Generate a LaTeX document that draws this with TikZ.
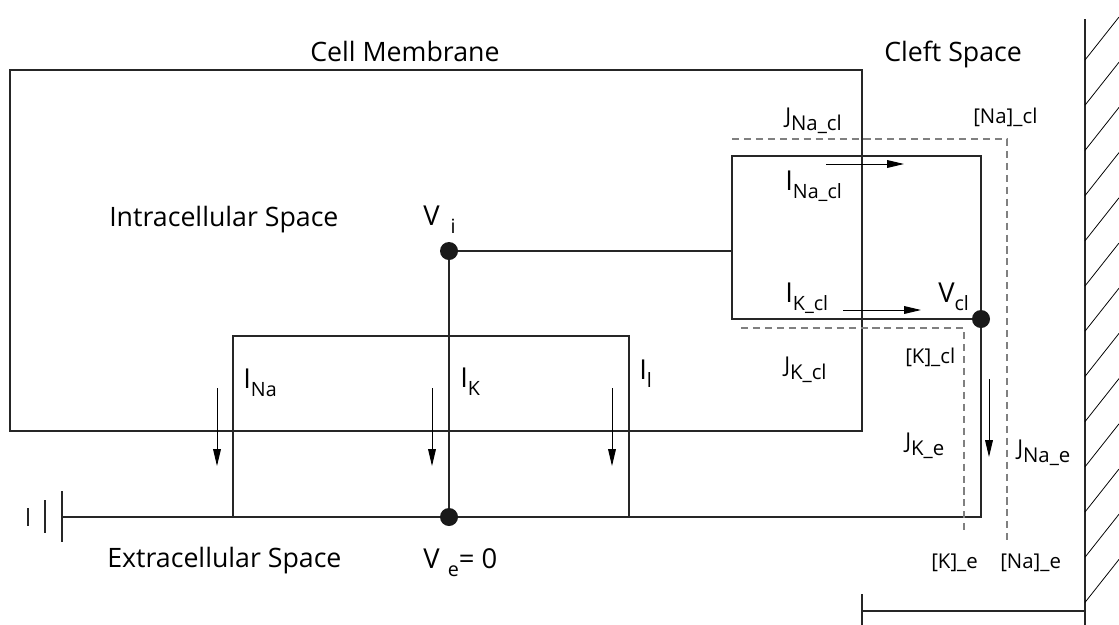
\documentclass[tikz,border=0pt]{standalone}
\usepackage{fontspec}
\setmainfont{Open Sans}
\usetikzlibrary{arrows.meta}
\newcommand{\sbs}[1]{\raisebox{-0.6ex}{\fontsize{14}{14}\selectfont #1}}
\newcommand{\jsb}[1]{\raisebox{-0.6ex}{\fontsize{14.5}{15}\selectfont #1}}
\tikzset{
  lbl/.style={inner sep=0pt,anchor=base west},
  space/.style={lbl,font=\fontsize{19}{22}\selectfont},
  cur/.style={lbl,font=\fontsize{19.5}{22}\selectfont},
  flux/.style={lbl,font=\fontsize{15.5}{18}\selectfont},
  conc/.style={lbl,font=\fontsize{14.5}{16}\selectfont},
  dot/.style={circle,fill=black!90,inner sep=0pt,minimum size=0.45cm},
  wire/.style={line width=0.85pt,black!85},
  dashline/.style={line width=0.8pt,black!50,dash pattern=on 5pt off 3.5pt},
  flow/.style={-{Triangle[length=12pt,width=5.5pt]},line width=0.7pt}
}
\begin{document}
\begin{tikzpicture}[x=0.025cm,y=-0.025cm]
    \useasboundingbox (0,0) rectangle (1119,625);
    % boxes
    \draw[wire] (10,70) rectangle (862,431);
    \draw[wire] (233,517) |- (629,336) -- (629,517);
    \draw[wire] (981,319) -| (732,156) -| (981,319);
    % nodes of the circuit
    \node[dot] (Vi) at (449,251) {};
    \node[dot] (Ve) at (449,517) {};
    \node[dot] (Vcl) at (981,319) {};
    \coordinate (gnd) at (62,517);
    \coordinate (clL) at (732,251);
    \draw[wire] (Vi) -- (clL);
    \draw[wire] (Vi) -- (Ve);
    \draw[wire] (gnd) -- (Ve) -- (Ve -| Vcl) -- (Vcl);
    % ground
    \draw[wire] (62,491) -- (62,542);
    \draw[wire] (45,500) -- (45,533);
    \draw[wire] (28,508) -- (28,526);
    % concentration paths
    \draw[dashline] (732,139) -| (1007,541);
    \draw[dashline] (741,328) -| (964,533);
    % currents
    \foreach \x in {217,432,612}
        \draw[flow] (\x,388) -- (\x,466);
    \draw[flow] (826,164) -- (904,164);
    \draw[flow] (843,310) -- (921,310);
    \draw[flow] (989,379) -- (989,457);
    % wall
    \draw[wire] (1085,19) -- (1085,625);
    \draw[wire] (862,611) -- (1085,611);
    \draw[wire] (862,594) -- (862,625);
    \foreach \k in {0,...,12}
        \draw[line width=0.55pt] (1085,{60+45.2*\k}) -- ++(34,-43);
    % labels
    \node[space] (tCM) at (310,61) {Cell Membrane};
    \node[space] (tCS) at (884,61) {Cleft Space};
    \node[space] (tIS) at (109,226) {Intracellular Space};
    \node[space] (tES) at (107,567) {Extracellular Space};
    \node[cur] (lVi) at (423,225) {V\hspace{0.4em}\sbs{i}};
    \node[cur] (lVe) at (423,568) {V\hspace{0.3em}\sbs{e}= 0};
    \node[cur] (lINa) at (243,388) {I\sbs{Na}};
    \node[cur] (lIK) at (460,387) {I\sbs{K}};
    \node[cur] (lIl) at (639,379) {I\sbs{l}};
    \node[cur] (lINacl) at (785,190) {I\sbs{Na\_cl}};
    \node[cur] (lIKcl) at (785,302) {I\sbs{K\_cl}};
    \node[cur] (lVcl) at (938,302) {V\sbs{cl}};
    \node[flux] (lJNacl) at (785,123) {J\jsb{Na\_cl}};
    \node[flux] (lJKcl) at (784,372) {J\jsb{K\_cl}};
    \node[flux] (lJKe) at (905,448) {J\jsb{K\_e}};
    \node[flux] (lJNae) at (1017,455) {J\jsb{Na\_e}};
    \node[conc] (cNacl) at (973,123) {[Na]\_cl};
    \node[conc] (cKcl) at (905,363) {[K]\_cl};
    \node[conc] (cKe) at (931,568) {[K]\_e};
    \node[conc] (cNae) at (1000,568) {[Na]\_e};
\end{tikzpicture}
\end{document}
